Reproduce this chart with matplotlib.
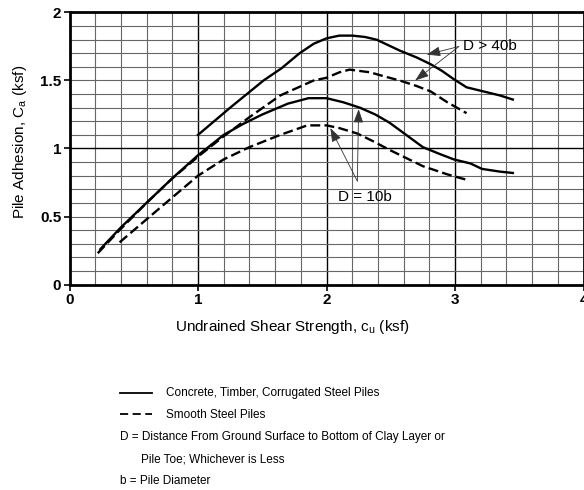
import numpy as np
import matplotlib.pyplot as plt
from matplotlib.lines import Line2D

plt.rcParams['font.family'] = ['Liberation Sans', 'DejaVu Sans']

# curves (x = cu in ksf, y = Ca in ksf)
solid_deep_x = [1.0, 1.25, 1.51, 1.65, 1.79, 1.9, 2.0, 2.1, 2.2, 2.3, 2.39, 2.48, 2.57, 2.7, 2.81, 2.9, 2.99, 3.09, 3.22, 3.35, 3.45]
solid_deep_y = [1.10, 1.30, 1.50, 1.59, 1.70, 1.77, 1.81, 1.83, 1.83, 1.82, 1.80, 1.76, 1.72, 1.67, 1.62, 1.57, 1.51, 1.45, 1.42, 1.39, 1.36]

dash_deep_x = [0.22, 0.4, 0.6, 0.8, 1.0, 1.2, 1.4, 1.64, 1.9, 2.0, 2.1, 2.18, 2.34, 2.45, 2.57, 2.7, 2.81, 2.94, 3.09]
dash_deep_y = [0.23, 0.41, 0.60, 0.78, 0.94, 1.09, 1.23, 1.39, 1.50, 1.52, 1.56, 1.58, 1.56, 1.53, 1.50, 1.46, 1.42, 1.34, 1.26]

solid_10b_x = [0.24, 0.4, 0.61, 0.81, 1.0, 1.2, 1.35, 1.5, 1.7, 1.86, 2.0, 2.13, 2.26, 2.38, 2.49, 2.62, 2.75, 2.88, 2.99, 3.12, 3.21, 3.35, 3.45]
solid_10b_y = [0.26, 0.42, 0.61, 0.79, 0.95, 1.10, 1.18, 1.25, 1.33, 1.37, 1.37, 1.34, 1.30, 1.25, 1.19, 1.10, 1.01, 0.96, 0.92, 0.89, 0.85, 0.83, 0.82]

dash_10b_x = [0.39, 0.7, 1.0, 1.2, 1.4, 1.64, 1.85, 2.0, 2.1, 2.24, 2.37, 2.49, 2.62, 2.75, 2.94, 3.09]
dash_10b_y = [0.31, 0.56, 0.80, 0.92, 1.01, 1.10, 1.17, 1.17, 1.15, 1.11, 1.05, 0.99, 0.93, 0.87, 0.81, 0.77]

x_ticks = [0, 1, 2, 3, 4]
y_ticks = [0, 0.5, 1, 1.5, 2]
y_tick_labels = ['0', '0.5', '1', '1.5', '2']

fig = plt.figure(figsize=(5.84, 4.9), dpi=100)
ax = fig.add_axes([69.5 / 584, 205.5 / 490, 514 / 584, 272 / 490])

# grid
for gx in np.arange(0.2, 4.0, 0.2):
    major = abs(gx - round(gx)) < 1e-6
    ax.axvline(gx, color='black' if major else '#666666', lw=1.0 if major else 0.8, zorder=1)
for gy in np.arange(0.1, 2.0, 0.1):
    major = abs(gy - 1.0) < 1e-6
    ax.axhline(gy, color='black' if major else '#666666', lw=1.0 if major else 0.8, zorder=1)

lw = 1.7
dash = (4.2, 1.8)
ax.plot(solid_deep_x, solid_deep_y, color='black', lw=lw, zorder=3)
ax.plot(dash_deep_x, dash_deep_y, color='black', lw=lw, dashes=dash, zorder=3)
ax.plot(solid_10b_x, solid_10b_y, color='black', lw=lw, zorder=3)
ax.plot(dash_10b_x, dash_10b_y, color='black', lw=lw, dashes=dash, zorder=3)

# annotations
arr = dict(arrowstyle='-|>,head_length=0.7,head_width=0.25', color='#333333', lw=0.6,
           mutation_scale=12, shrinkA=0, shrinkB=0)
ax.annotate('', xy=(2.78, 1.69), xytext=(3.03, 1.75), arrowprops=arr, zorder=4)
ax.annotate('', xy=(2.69, 1.50), xytext=(3.03, 1.75), arrowprops=arr, zorder=4)
ax.text(3.06, 1.75, 'D > 40b', fontsize=11, va='center', ha='left', zorder=4)
ax.annotate('', xy=(2.25, 1.29), xytext=(2.24, 0.76), arrowprops=arr, zorder=4)
ax.annotate('', xy=(2.03, 1.15), xytext=(2.24, 0.76), arrowprops=arr, zorder=4)
ax.text(2.3, 0.64, 'D = 10b', fontsize=11, va='center', ha='center', zorder=4)

ax.set_xlim(0, 4)
ax.set_ylim(0, 2)
ax.set_xticks(x_ticks)
ax.set_yticks(y_ticks)
ax.set_yticklabels(y_tick_labels)
ax.tick_params(direction='out', length=4, width=1.2, labelsize=11, pad=2)
for lab in ax.get_xticklabels() + ax.get_yticklabels():
    lab.set_fontweight('bold')
for s in ax.spines.values():
    s.set_linewidth(2.0)
    s.set_zorder(5)

fig.text(292 / 584, 1 - 327 / 490, 'Undrained Shear Strength, $\\mathregular{c_u}$ (ksf)',
         ha='center', va='center', fontsize=11)
fig.text(20 / 584, 1 - 142 / 490, 'Pile Adhesion, $\\mathregular{C_a}$ (ksf)',
         ha='center', va='center', fontsize=11, rotation=90)

# legend / notes below the chart
def fy(py):
    return 1 - py / 490

fig.add_artist(Line2D([120 / 584, 152 / 584], [fy(393), fy(393)], color='black', lw=1.3))
fig.add_artist(Line2D([120 / 584, 152 / 584], [fy(414), fy(414)], color='black', lw=1.3, dashes=(4.5, 2.5)))
note_size = 8.5
fig.text(166 / 584, fy(393), 'Concrete, Timber, Corrugated Steel Piles', fontsize=note_size, va='center')
fig.text(166 / 584, fy(415), 'Smooth Steel Piles', fontsize=note_size, va='center')
fig.text(120 / 584, fy(437), 'D = Distance From Ground Surface to Bottom of Clay Layer or', fontsize=note_size, va='center')
fig.text(141 / 584, fy(459), 'Pile Toe; Whichever is Less', fontsize=note_size, va='center')
fig.text(120 / 584, fy(481), 'b = Pile Diameter', fontsize=note_size, va='center')

fig.savefig('out.png', dpi=100)
